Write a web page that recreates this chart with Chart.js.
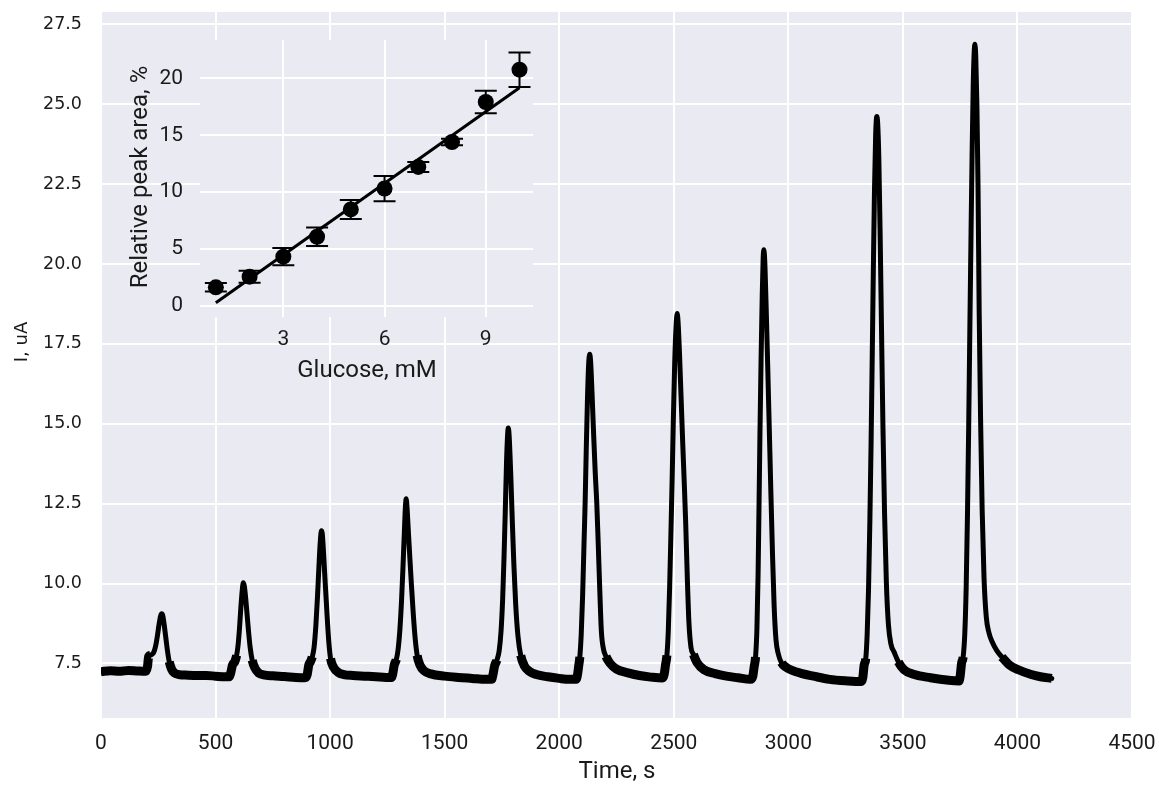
<!DOCTYPE html>
<html><head><meta charset="utf-8">
<script src="https://cdn.jsdelivr.net/npm/chart.js@4.4.1/dist/chart.umd.min.js"></script>
<style>
html,body{margin:0;padding:0;background:#fff;}
#wrap{position:relative;width:1159px;height:785px;}
canvas{position:absolute;left:0;top:0;}
</style></head><body>
<div id="wrap"><canvas id="main" width="1159" height="785"></canvas><canvas id="inset" width="1159" height="785"></canvas></div>
<script>
// ---- main trace: time (s) and current (uA) ----
const timeS = [
  0,40,80,120,160,195,
  203,208,216,226,233,240,247,254,260,265,270,276,283,290,298,308,320,340,
  380,420,460,500,540,560,
  566,574,584,592,598,604,610,616,621,626,632,638,644,651,660,672,688,710,
  750,800,850,890,
  900,907,914,922,930,938,945,951,957,962,966,971,978,986,994,1002,1015,1035,1060,
  1100,1150,1200,1245,1268,
  1274,1280,1289,1297,1305,1312,1318,1324,1329,1332,1336,1341,1348,1355,1363,1371,1380,1392,1410,1440,
  1500,1560,1620,1680,1705,
  1711,1718,1728,1738,1746,1753,1759,1765,1770,1775,1778,1782,1788,1795,1802,1810,1820,1832,1848,1870,1900,
  1950,2000,2045,2074,
  2080,2085,2090,2096,2102,2108,2113,2118,2123,2128,2133,2137,2143,2150,2157,2164,2170,2177,2184,2193,2204,2222,2250,2300,2350,2400,2450,
  2458,2464,2470,2476,2482,2488,2493,2498,2504,2510,2515,2519,2525,2532,2539,2546,2552,2559,2566,2575,2586,2602,2632,2680,2730,2780,2835,
  2845,2851,2857,2863,2868,2872,2876,2881,2886,2890,2893,2897,2903,2910,2917,2924,2931,2938,2946,2956,2970,2990,3010,3060,3110,3180,3258,3318,
  3325,3331,3338,3344,3350,3356,3361,3366,3371,3376,3381,3386,3390,3395,3401,3407,3413,3420,3428,3437,3448,3462,3480,3505,3550,3620,3700,3745,
  3750,3756,3763,3770,3776,3782,3787,3792,3797,3802,3807,3811,3814,3818,3823,3828,3833,3839,3846,3854,3864,3876,3888,3910,3932,3965,4004,4060,4100,4150
];
const currentUA = [
  7.24,7.27,7.25,7.28,7.26,7.25,
  7.4,7.72,7.76,7.8,7.9,8.1,8.4,8.75,8.98,9.05,8.98,8.7,8.3,7.9,7.55,7.32,7.2,7.15,
  7.13,7.12,7.12,7.1,7.08,7.08,
  7.2,7.45,7.55,7.75,8.05,8.55,9.2,9.75,10.02,9.9,9.5,9.0,8.5,8.0,7.6,7.35,7.2,7.14,
  7.11,7.09,7.06,7.05,
  7.15,7.45,7.55,7.7,8.0,8.7,9.6,10.5,11.3,11.65,11.55,11.0,10.1,9.1,8.2,7.65,7.38,7.22,7.15,
  7.12,7.1,7.08,7.06,7.06,
  7.2,7.45,7.62,7.95,8.6,9.5,10.5,11.6,12.45,12.65,12.35,11.7,10.8,9.95,9.05,8.3,7.75,7.45,7.27,7.17,
  7.1,7.06,7.03,7.0,7.0,
  7.15,7.42,7.6,7.9,8.5,9.5,10.8,12.4,13.8,14.7,14.87,14.55,13.5,12.0,10.6,9.35,8.35,7.75,7.42,7.25,7.15,
  7.08,7.03,7.0,7.0,
  7.15,7.42,7.7,8.4,9.6,11.2,12.5,14.2,15.7,16.8,17.18,16.95,16.0,14.7,13.5,12.5,11.3,9.8,8.5,7.95,7.72,7.5,7.32,7.2,7.12,7.07,7.04,
  7.15,7.45,7.75,8.5,9.9,11.7,13.3,15.1,16.9,18.05,18.45,18.15,17.2,15.8,14.4,13.1,11.9,10.2,8.8,8.0,7.78,7.52,7.3,7.18,7.1,7.05,7.0,
  7.1,7.4,7.7,8.6,10.3,12.4,14.6,17.0,19.0,20.15,20.45,20.1,18.7,16.8,14.8,12.8,10.9,9.3,8.25,7.8,7.52,7.38,7.3,7.18,7.1,7.0,6.95,6.93,
  7.05,7.45,7.65,8.4,9.8,12.0,14.3,17.0,19.8,22.3,24.0,24.62,24.4,23.3,20.8,17.8,14.9,12.2,10.0,8.7,8.1,7.85,7.55,7.3,7.15,7.05,6.97,6.95,
  7.1,7.5,7.7,8.4,9.8,12.2,14.8,17.8,20.7,23.4,25.6,26.6,26.88,26.5,25.0,22.4,18.5,15.2,12.3,10.2,8.95,8.45,8.2,7.9,7.7,7.45,7.3,7.15,7.08,7.03
];
const xTickValues = [0,500,1000,1500,2000,2500,3000,3500,4000,4500];
const yTickValues = [7.5,10,12.5,15,17.5,20,22.5,25,27.5];

// ---- inset: calibration ----
const glucoseMM   = [1,2,3,4,5,6,7,8,9,10];
const peakAreaPct = [1.64,2.57,4.33,6.08,8.48,10.32,12.22,14.41,17.92,20.76];
const peakAreaErr = [0.38,0.53,0.76,0.82,0.83,1.11,0.44,0.29,0.98,1.52];
const fitX = [1,10];
const fitY = [0.29,19.18];
const insetXTicks = [3,6,9];
const insetYTicks = [0,5,10,15,20];

const BG = '#EAEAF2';
const TXT = '#1a1a1a';
const LATEX = 'Roboto, "Open Sans", sans-serif';

const bgPlugin = {
  id:'bg',
  beforeDraw(chart){
    const a = chart.chartArea, c = chart.ctx;
    c.save(); c.fillStyle = BG; c.fillRect(a.left, a.top, a.right-a.left, a.bottom-a.top); c.restore();
  }
};
function textPlugin(id, items){
  return {
    id:id,
    afterDraw(chart){
      const c = chart.ctx;
      items.forEach(it=>{
        c.save();
        c.fillStyle = TXT; c.font = it.font; c.textAlign='center'; c.textBaseline='middle';
        c.translate(it.x, it.y);
        if (it.rot) c.rotate(it.rot);
        c.fillText(it.text, 0, 0);
        c.restore();
      });
    }
  };
}
function noSidePad(s){ s.paddingLeft = 0; s.paddingRight = 0; }
function noVertPad(s){ s.paddingTop = 0; s.paddingBottom = 0; }

const pts = timeS.map((t,i)=>({x:t, y:currentUA[i]}));

new Chart(document.getElementById('main'), {
  type:'line',
  data:{datasets:[
    {data:pts, borderColor:'#000', borderWidth:5, pointRadius:0, cubicInterpolationMode:'monotone',
     borderJoinStyle:'round', borderCapStyle:'round', fill:false},
    {data:pts, borderColor:'#000', borderWidth:9, pointRadius:0, cubicInterpolationMode:'monotone',
     borderJoinStyle:'round', borderCapStyle:'butt', fill:false,
     segment:{borderColor: ctx => (ctx.p0.parsed.y < 7.8 && ctx.p1.parsed.y < 7.8) ? '#000' : 'rgba(0,0,0,0)'}}
  ]},
  options:{
    animation:false, responsive:false, devicePixelRatio:1,
    layout:{padding:{left:0,right:27,top:12,bottom:0}},
    plugins:{legend:{display:false}, tooltip:{enabled:false}},
    scales:{
      x:{type:'linear', min:0, max:4500,
        afterBuildTicks:s=>{s.ticks = xTickValues.map(v=>({value:v}));},
        afterFit:s=>{s.height = 67; noSidePad(s);},
        grid:{color:'#fff', lineWidth:2, drawTicks:false},
        border:{display:false},
        ticks:{padding:13, color:TXT, font:{family:LATEX, size:21}, maxRotation:0, autoSkip:false, callback:v=>String(v)}},
      y:{type:'linear', min:5.79, max:27.89,
        afterBuildTicks:s=>{s.ticks = yTickValues.map(v=>({value:v}));},
        afterFit:s=>{s.width = 101; noVertPad(s);},
        grid:{color:'#fff', lineWidth:2, drawTicks:false},
        border:{display:false},
        ticks:{padding:19, color:TXT, font:{family:'DejaVu Sans', size:17.5}, callback:v=>Number(v).toFixed(1)}}
    }
  },
  plugins:[bgPlugin, textPlugin('mainTxt', [
    {text:'I, uA', x:22, y:342, rot:-Math.PI/2, font:'18px "DejaVu Sans"'},
    {text:'Time, s', x:617, y:772, font:'24px '+LATEX}
  ])]
});

const errPlugin = {
  id:'err',
  beforeDatasetsDraw(chart){
    const c = chart.ctx, xs = chart.scales.x, ys = chart.scales.y;
    c.save(); c.strokeStyle='#000'; c.lineWidth=2;
    glucoseMM.forEach((g,i)=>{
      const px = xs.getPixelForValue(g);
      const y1 = ys.getPixelForValue(peakAreaPct[i]-peakAreaErr[i]);
      const y2 = ys.getPixelForValue(peakAreaPct[i]+peakAreaErr[i]);
      c.beginPath();
      c.moveTo(px,y1); c.lineTo(px,y2);
      c.moveTo(px-11,y1); c.lineTo(px+11,y1);
      c.moveTo(px-11,y2); c.lineTo(px+11,y2);
      c.stroke();
    });
    c.restore();
  }
};

new Chart(document.getElementById('inset'), {
  type:'scatter',
  data:{datasets:[
    {data:glucoseMM.map((g,i)=>({x:g,y:peakAreaPct[i]})), pointRadius:8, pointBackgroundColor:'#000', pointBorderWidth:0, showLine:false},
    {data:fitX.map((g,i)=>({x:g,y:fitY[i]})), showLine:true, borderColor:'#000', borderWidth:3, pointRadius:0}
  ]},
  options:{
    animation:false, responsive:false, devicePixelRatio:1,
    layout:{padding:{left:0,right:626,top:40,bottom:0}},
    plugins:{legend:{display:false}, tooltip:{enabled:false}},
    scales:{
      x:{type:'linear', min:0.53, max:10.40,
        afterBuildTicks:s=>{s.ticks = insetXTicks.map(v=>({value:v}));},
        afterFit:s=>{s.height = 785-317; noSidePad(s);},
        grid:{color:'#fff', lineWidth:2, drawTicks:false},
        border:{display:false},
        ticks:{padding:10, color:TXT, font:{family:LATEX, size:21}, maxRotation:0, autoSkip:false, callback:v=>String(v)}},
      y:{type:'linear', min:-0.97, max:23.37,
        afterBuildTicks:s=>{s.ticks = insetYTicks.map(v=>({value:v}));},
        afterFit:s=>{s.width = 200; noVertPad(s);},
        grid:{color:'#fff', lineWidth:2, drawTicks:false},
        border:{display:false},
        ticks:{padding:17, color:TXT, font:{family:LATEX, size:21}, callback:v=>String(v)}}
    }
  },
  plugins:[bgPlugin, errPlugin, textPlugin('insetTxt', [
    {text:'Glucose, mM', x:367, y:371, font:'24px '+LATEX},
    {text:'Relative peak area, %', x:141, y:177, rot:-Math.PI/2, font:'24px '+LATEX}
  ])]
});
</script>
</body></html>
